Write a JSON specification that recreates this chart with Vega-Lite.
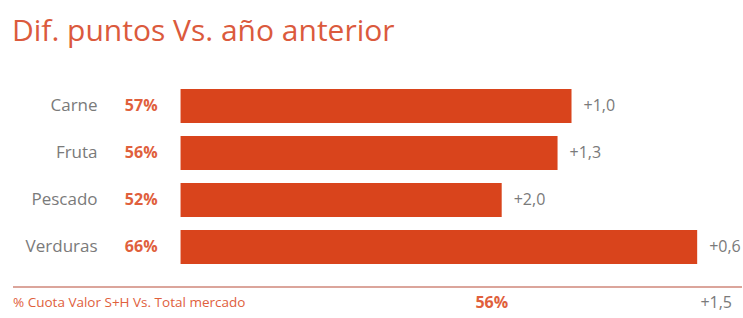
{
  "$schema": "https://vega.github.io/schema/vega-lite/v6.json",
  "width": 743,
  "height": 318,
  "autosize": {"type": "fit", "contains": "padding"},
  "padding": {"left": 12, "right": 0, "top": 17, "bottom": 0},
  "background": "white",
  "title": {
    "text": "Dif. puntos Vs. año anterior",
    "anchor": "start",
    "font": "Open Sans",
    "fontSize": 30,
    "fontWeight": "normal",
    "color": "#db5a3d",
    "offset": 35
  },
  "config": {
    "view": {"stroke": null},
    "locale": {
      "number": {"decimal": ",", "thousands": ".", "grouping": [3], "currency": ["", " €"]}
    }
  },
  "data": {
    "values": [
      {"cat": "Carne", "cuota": 0.57, "dif": 1.0, "tipo": "cat"},
      {"cat": "Fruta", "cuota": 0.56, "dif": 1.3, "tipo": "cat"},
      {"cat": "Pescado", "cuota": 0.52, "dif": 2.0, "tipo": "cat"},
      {"cat": "Verduras", "cuota": 0.66, "dif": 0.6, "tipo": "cat"},
      {"cat": "% Cuota Valor S+H Vs. Total mercado", "cuota": 0.56, "dif": 1.5, "tipo": "total"}
    ]
  },
  "encoding": {
    "y": {
      "field": "cat",
      "type": "nominal",
      "sort": null,
      "axis": null,
      "scale": {"paddingInner": 0.28, "paddingOuter": 0.15}
    }
  },
  "layer": [
    {
      "transform": [{"filter": "datum.tipo === 'cat'"}],
      "mark": {"type": "bar", "color": "#d9441c"},
      "encoding": {
        "x": {
          "field": "cuota",
          "type": "quantitative",
          "axis": null,
          "scale": {"domain": [0.17, 0.6921], "nice": false, "zero": false}
        },
        "x2": {"datum": 0.29}
      }
    },
    {
      "transform": [{"filter": "datum.tipo === 'cat'"}],
      "mark": {"type": "text", "align": "right", "baseline": "middle", "dx": -83, "font": "Open Sans", "fontSize": 17, "color": "#7a7a7a"},
      "encoding": {
        "x": {"datum": 0.29, "type": "quantitative"},
        "text": {"field": "cat"}
      }
    },
    {
      "transform": [{"filter": "datum.tipo === 'cat'"}],
      "mark": {"type": "text", "align": "right", "baseline": "middle", "dx": -23, "font": "Open Sans", "fontSize": 16, "fontWeight": "bold", "color": "#e0603c"},
      "encoding": {
        "x": {"datum": 0.29, "type": "quantitative"},
        "text": {"field": "cuota", "format": ".0%"}
      }
    },
    {
      "transform": [{"filter": "datum.tipo === 'cat'"}],
      "mark": {"type": "text", "align": "left", "baseline": "middle", "dx": 12, "font": "Open Sans", "fontSize": 16, "color": "#7a7a7a"},
      "encoding": {
        "x": {"field": "cuota", "type": "quantitative"},
        "text": {"field": "dif", "format": "+.1f"}
      }
    },
    {
      "transform": [{"filter": "datum.tipo === 'total'"}],
      "mark": {"type": "rule", "color": "#dba59b", "strokeWidth": 2, "yOffset": -7},
      "encoding": {}
    },
    {
      "transform": [{"filter": "datum.tipo === 'total'"}],
      "mark": {"type": "text", "align": "left", "baseline": "middle", "dy": 9, "font": "Open Sans", "fontSize": 13.5, "color": "#e0603c"},
      "encoding": {
        "x": {"datum": 0.17, "type": "quantitative"},
        "text": {"field": "cat"}
      }
    },
    {
      "transform": [{"filter": "datum.tipo === 'total'"}],
      "mark": {"type": "text", "align": "center", "baseline": "middle", "dy": 9, "font": "Open Sans", "fontSize": 16, "fontWeight": "bold", "color": "#e0603c"},
      "encoding": {
        "x": {"datum": 0.5129, "type": "quantitative"},
        "text": {"field": "cuota", "format": ".0%"}
      }
    },
    {
      "transform": [{"filter": "datum.tipo === 'total'"}],
      "mark": {"type": "text", "align": "right", "baseline": "middle", "dy": 9, "dx": -10, "font": "Open Sans", "fontSize": 16, "color": "#7a7a7a"},
      "encoding": {
        "x": {"datum": 0.6921, "type": "quantitative"},
        "text": {"field": "dif", "format": "+.1f"}
      }
    }
  ]
}
